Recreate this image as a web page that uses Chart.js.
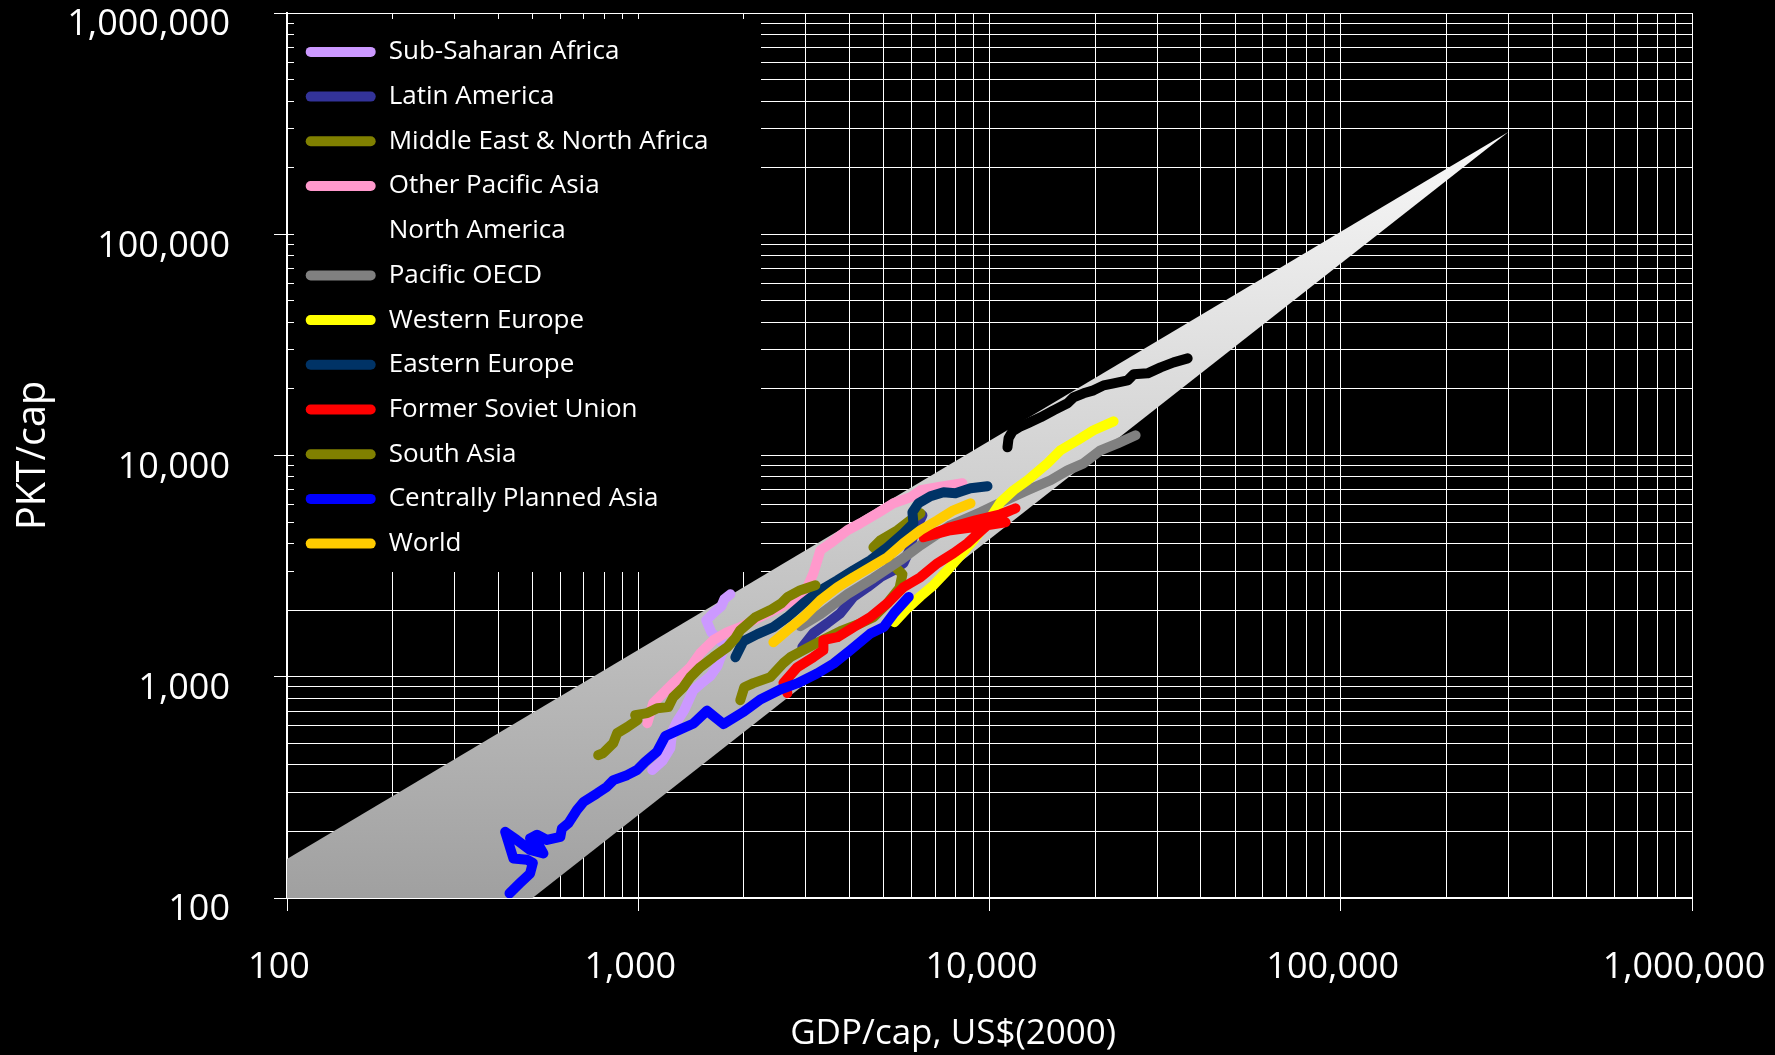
<!DOCTYPE html>
<html>
<head>
<meta charset="utf-8">
<title>PKT/cap vs GDP/cap</title>
<script src="https://cdn.jsdelivr.net/npm/chart.js@4"></script>
<style>
  html, body { margin: 0; padding: 0; background: #000; }
  canvas { display: block; }
</style>
</head>
<body>
<canvas id="myChart" width="1775" height="1055"></canvas>
<script>
// axis ticks (log scale, one label per decade)
const decades = [100, 1000, 10000, 100000, 1000000];
const minorSteps = [2, 3, 4, 5, 6, 7, 8, 9];

const regions = [
    'Sub-Saharan Africa', 'Latin America', 'Middle East & North Africa', 'Other Pacific Asia',
    'North America', 'Pacific OECD', 'Western Europe', 'Eastern Europe',
    'Former Soviet Union', 'South Asia', 'Centrally Planned Asia', 'World'
];
const regionColors = [
    '#CC99FF', '#333399', '#808000', '#FF99CC', '#000000', '#808080',
    '#FFFF00', '#003366', '#FF0000', '#808000', '#0000FF', '#FFCC00'
];

// GDP/cap (US$2000) and PKT/cap per region
const ssaGdp = [1096, 1171, 1234, 1250, 1291, 1352, 1435, 1502, 1604, 1680, 1724, 1770, 1701, 1614, 1562, 1647, 1724, 1758, 1829];
const ssaPkt = [379, 416, 476, 568, 630, 707, 870, 926, 1006, 1117, 1252, 1389, 1463, 1590, 1801, 1958, 2084, 2241, 2360];

const laGdp = [2932, 3152, 3456, 3763, 4099, 4492, 4892, 5328, 5689, 5917, 6074, 6235, 6444];
const laPkt = [1361, 1574, 1747, 1938, 2296, 2539, 2818, 3030, 3259, 3730, 4361, 4838, 5371];

const menaGdp = [1952, 2004, 2127, 2377, 2589, 2710, 2952, 3300, 3763, 4236, 4672, 5123, 5542, 5652, 5224, 4672, 4892, 5470, 5955, 6360];
const menaPkt = [784, 897, 936, 996, 1152, 1226, 1319, 1448, 1607, 1728, 1859, 2150, 2513, 2907, 3293, 3849, 4140, 4593, 5097, 5480];

const opaGdp = [1061, 1103, 1178, 1258, 1407, 1502, 1636, 1793, 1952, 2183, 2538, 2765, 3030, 3152, 3236, 3300, 3524, 3939, 4291, 4796, 5328, 5955, 6360, 7112, 8378];
const opaPkt = [617, 760, 843, 936, 1105, 1279, 1463, 1590, 1675, 1839, 2063, 2218, 2539, 2937, 3363, 3730, 4013, 4593, 4941, 5480, 6083, 6474, 6963, 7184, 7488];

const naGdp = [11250, 11330, 11630, 12260, 12830, 13980, 15220, 16680, 17350, 18530, 19780, 21130, 22560, 24730, 25720, 28190, 30710, 33440, 36660];
const naPkt = [10890, 11960, 12860, 13550, 13980, 14880, 16000, 17220, 18320, 19100, 19700, 20750, 21190, 21860, 23270, 23510, 25020, 26360, 27480];

const pacGdp = [2894, 3300, 3939, 4672, 5578, 6360, 7743, 9428, 10960, 12830, 14920, 16680, 18530, 20710, 23160, 26060];
const pacPkt = [1692, 1918, 2360, 2789, 3363, 3931, 4838, 5540, 6211, 6963, 7727, 8570, 9220, 10560, 11350, 12340];

const weGdp = [5363, 5840, 6360, 6926, 7593, 8270, 9005, 9870, 10750, 11710, 12830, 14630, 15930, 17810, 19780, 22560];
const wePkt = [1765, 2041, 2312, 2593, 3030, 3542, 4140, 4993, 6147, 6963, 7727, 9220, 10560, 11720, 13000, 14270];

const eeGdp = [1890, 1991, 2183, 2425, 2658, 2952, 3300, 3690, 4099, 4581, 5123, 5689, 6074, 6033, 6277, 6790, 7396, 8000, 8830, 9870];
const eePkt = [1226, 1448, 1558, 1675, 1859, 2150, 2461, 2731, 3030, 3363, 3849, 4452, 4941, 5540, 6083, 6542, 6820, 6750, 7110, 7260];

const fsuGdp = [2658, 2589, 2838, 3152, 3366, 3366, 3690, 4099, 4581, 5123, 5689, 6360, 7112, 7897, 8654, 9428, 10540, 11860, 10750, 9122, 7743, 6486, 7743, 9428, 11110];
const fsuPkt = [843, 936, 1105, 1226, 1319, 1463, 1510, 1675, 1859, 2150, 2539, 2818, 3259, 3617, 4013, 4546, 5315, 5774, 5426, 5097, 4739, 4271, 4593, 4788, 4993];

const saGdp = [769, 795, 849, 871, 930, 994, 980, 1061, 1133, 1217, 1258, 1344, 1407, 1502, 1636, 1793, 1890, 1952, 2154, 2377, 2556, 2658, 2894, 3194];
const saPkt = [442, 452, 501, 556, 592, 637, 671, 685, 721, 729, 809, 897, 996, 1105, 1226, 1361, 1494, 1623, 1859, 2000, 2150, 2289, 2461, 2593];

const cpaGdp = [430, 461, 492, 501, 482, 441, 418, 451, 492, 537, 520, 492, 515, 550, 600, 606, 633, 669, 699, 763, 814, 850, 929, 992, 1047, 1131, 1194, 1317, 1437, 1569, 1750, 1995, 2226, 2538, 2832, 3229, 3601, 4018, 4581, 4999, 5339, 5890];
const cpaPkt = [105, 117, 129, 144, 149, 151, 199, 183, 165, 159, 174, 186, 193, 183, 189, 206, 218, 250, 272, 297, 318, 341, 359, 379, 413, 458, 539, 578, 615, 702, 611, 694, 790, 876, 933, 1035, 1148, 1319, 1569, 1680, 1932, 2296];

const worldGdp = [2425, 2658, 2952, 3300, 3690, 4099, 4581, 5123, 5689, 6360, 7112, 7897, 8830];
const worldPkt = [1433, 1623, 1859, 2218, 2539, 2818, 3126, 3469, 4013, 4593, 5097, 5656, 6083];

// grey band behind the data (corner points)
const bandGdp = [100, 100, 300000, 500, 100];
const bandPkt = [100, 150, 290000, 100, 100];

const gdpSeries = [ssaGdp, laGdp, menaGdp, opaGdp, naGdp, pacGdp, weGdp, eeGdp, fsuGdp, saGdp, cpaGdp, worldGdp];
const pktSeries = [ssaPkt, laPkt, menaPkt, opaPkt, naPkt, pacPkt, wePkt, eePkt, fsuPkt, saPkt, cpaPkt, worldPkt];

const FONT = "'Open Sans', 'Noto Sans', sans-serif";

function toPoints(xs, ys) {
    return xs.map((x, i) => ({ x: x, y: ys[i] }));
}

function tickValues() {
    const out = [];
    decades.forEach((d, i) => {
        out.push(d);
        if (i < decades.length - 1) minorSteps.forEach(m => out.push(d * m));
    });
    return out;
}

function isDecade(v) {
    return decades.includes(v);
}

function bandFill(context) {
    const { ctx, chartArea } = context.chart;
    if (!chartArea) return '#c0c0c0';
    const g = ctx.createLinearGradient(0, chartArea.bottom, 0, chartArea.top);
    g.addColorStop(0, '#a0a0a0');
    g.addColorStop(0.86, '#f8f8f8');
    g.addColorStop(1, '#ffffff');
    return g;
}

const datasets = regions.map((name, i) => ({
    label: name,
    data: toPoints(gdpSeries[i], pktSeries[i]),
    borderColor: regionColors[i],
    backgroundColor: regionColors[i],
    borderWidth: 10,
    borderCapStyle: 'round',
    borderJoinStyle: 'round',
    showLine: true,
    fill: false,
    order: regions.length - i  // later regions drawn on top
}));

datasets.push({
    label: '',
    data: toPoints(bandGdp, bandPkt),
    borderWidth: 0,
    borderColor: 'rgba(0,0,0,0)',
    backgroundColor: bandFill,
    showLine: true,
    fill: 'shape',
    order: 100
});

// black box behind the legend, over the grid lines
const legendBackdrop = {
    id: 'legendBackdrop',
    beforeDatasetsDraw(chart) {
        const { ctx, chartArea } = chart;
        ctx.save();
        ctx.fillStyle = '#000';
        ctx.fillRect(chartArea.left + 7, chartArea.top + 6, 467, 553);
        ctx.restore();
        chart.legend.draw();
    }
};

function axisOptions(title, titleSize, titlePadding, labelOffset) {
    return {
        type: 'logarithmic',
        min: 100,
        max: 1000000,
        afterBuildTicks: (scale) => {
            scale.ticks = tickValues().map(v => ({ value: v }));
        },
        ticks: {
            autoSkip: false,
            maxRotation: 0,
            color: '#fff',
            font: { family: FONT, size: 36 },
            labelOffset: labelOffset,
            callback: (v) => isDecade(v) ? Number(v).toLocaleString('en-US') : ''
        },
        grid: {
            color: '#fff',
            lineWidth: 1,
            tickLength: 13,
            tickWidth: 1,
            tickColor: (c) => (c.tick && isDecade(c.tick.value)) ? '#fff' : 'rgba(0,0,0,0)'
        },
        border: { color: '#fff', width: 2 },
        title: {
            display: true,
            text: title,
            color: '#fff',
            font: { family: FONT, size: titleSize },
            padding: titlePadding
        }
    };
}

// trailing spaces pull the centred title a little to the left, as in the original
const xAxis = axisOptions('GDP/cap, US$(2000)' + '\u00A0'.repeat(8), 35, { top: 0, bottom: 0 }, -8);
xAxis.ticks.padding = 35;
xAxis.afterFit = (scale) => {
    scale.height = 157;
    scale.paddingLeft = 0;
    scale.paddingRight = 0;
};

const yAxis = axisOptions('PKT/cap', 39.5, { top: 10, bottom: 0 }, 12);
yAxis.ticks.padding = 44;
yAxis.afterFit = (scale) => {
    scale.width = 287;
    scale.paddingTop = 0;
    scale.paddingBottom = 0;
};

const ctx = document.getElementById('myChart').getContext('2d');
new Chart(ctx, {
    type: 'scatter',
    data: { datasets: datasets },
    options: {
        responsive: false,
        animation: false,
        devicePixelRatio: 1,
        layout: { padding: { top: 13, right: 83, bottom: 0, left: 0 } },
        elements: { point: { radius: 0, hoverRadius: 0 } },
        scales: { x: xAxis, y: yAxis },
        plugins: {
            tooltip: { enabled: false },
            legend: {
                position: 'chartArea',
                align: 'start',
                title: { display: true, text: '', font: { size: 1 }, padding: { top: 19, bottom: 0 } },
                labels: {
                    color: '#fff',
                    font: { family: FONT, size: 26 },
                    boxWidth: 70,
                    boxHeight: 10,
                    padding: 18.7,
                    useBorderRadius: true,
                    borderRadius: 5,
                    generateLabels: (chart) => chart.data.datasets
                        .map((ds, i) => ({
                            text: ds.label,
                            fillStyle: ds.borderColor,
                            strokeStyle: ds.borderColor,
                            lineWidth: 0,
                            borderRadius: 5,
                            fontColor: '#fff',
                            hidden: false,
                            datasetIndex: i
                        }))
                        .filter(item => item.text)
                }
            }
        }
    },
    plugins: [legendBackdrop]
});
</script>
</body>
</html>
